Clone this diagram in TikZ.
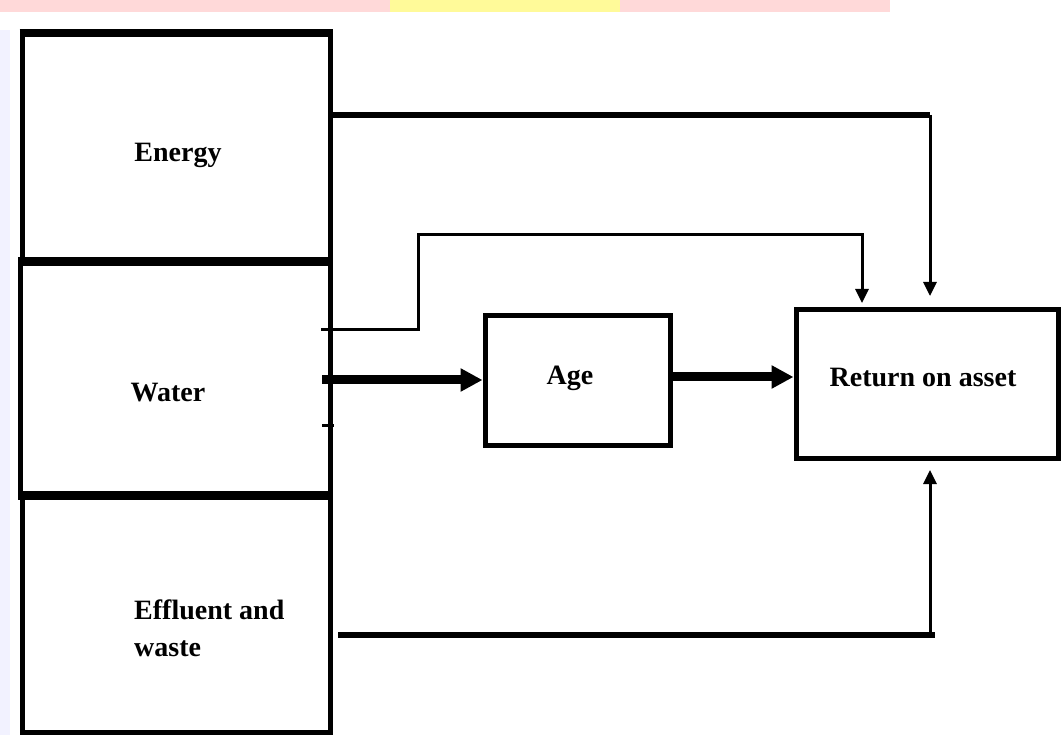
\documentclass[tikz,border=0pt]{standalone}
\usepackage{fontspec}
\setmainfont{Liberation Serif}
\usetikzlibrary{arrows.meta}
\begin{document}
\begin{tikzpicture}[x=1pt,y=-1pt,
  box/.style={draw=black,line width=5pt,fill=white,inner sep=0pt},
  lbl/.style={font=\bfseries\fontsize{28}{37}\selectfont,inner sep=0pt},
  heavy/.style={line width=6pt},
  light/.style={line width=3pt},
  tip/.style={-{Triangle[length=14pt,width=13pt]}},
  bigtip/.style={-{Triangle[length=22pt,width=22pt]}}]
\useasboundingbox (0,0) rectangle (1061,735);
\fill[white] (0,0) rectangle (1061,735);
\fill[red!15] (0,0) rectangle (890,12);
\fill[yellow!40] (390,0) rectangle (620,12);
\fill[blue!5] (0,30) rectangle (10,735);
% left column boxes
\node[box,minimum width=308pt,minimum height=225pt] (energy) at (176,147.5) {};
\node[box,minimum width=310pt,minimum height=237pt] (water) at (175,378.5) {};
\node[box,minimum width=308pt,minimum height=235pt] (effl) at (176,614.5) {};
\draw[line width=8pt] (energy.south west) -- (energy.south east);
\draw[line width=8pt] (effl.north west) -- (effl.north east);
\draw[line width=7pt] (energy.north west) -- (energy.north east);
\node[lbl] (tenergy) at (178,155) {Energy};
\node[lbl] (twater) at (168,393) {Water};
\node[lbl,align=left,anchor=west] (teffl) at (134,628) {Effluent and\\waste};
% right boxes
\node[box,minimum width=185pt,minimum height=129pt] (age) at (577.5,380.5) {};
\node[box,minimum width=262pt,minimum height=148pt] (roa) at (927,384) {};
\node[lbl] (tage) at (570,378) {Age};
\node[lbl] (troa) at (923,378) {Return on asset};
% coordinates
\coordinate (e1) at (330,115);
\coordinate (e2) at (930,115);
\coordinate (e3) at (930,296);
\coordinate (w1) at (322,330);
\coordinate (w2) at (418,330);
\coordinate (w3) at (418,235);
\coordinate (w4) at (862,235);
\coordinate (w5) at (862,303);
\coordinate (wa) at (322,380);
\coordinate (ha) at (0,377);
\coordinate (f1) at (338,635);
\coordinate (f2) at (935,635);
\coordinate (f3) at (930,635);
\coordinate (f4) at (930,470);
\coordinate (t1) at (322,426);
\coordinate (t2) at (334,426);
% connectors
\draw[heavy] (e1) -- (e2);
\draw[light,tip] (e2) -- (e3);
\draw[light,line cap=rect] (w1) -- (w2) -- (w3) -- (w4);
\draw[light,tip] (w4) -- (w5);
\draw[line width=9pt,bigtip] (wa) -- (age.west |- wa);
\draw[line width=9pt,bigtip] (age.east |- ha) -- (roa.west |- ha);
\draw[heavy] (f1) -- (f2);
\draw[light,tip] (f3) -- (f4);
\draw[light] (t1) -- (t2);
\end{tikzpicture}
\end{document}
